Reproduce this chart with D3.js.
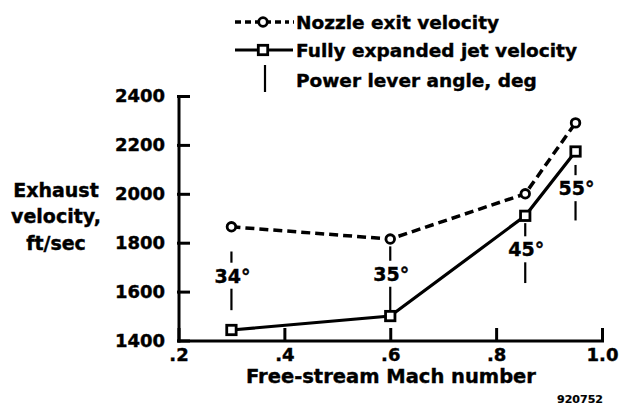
<!DOCTYPE html>
<html>
<head>
<meta charset="utf-8">
<script src="https://cdn.jsdelivr.net/npm/d3@7"></script>
<style>
  body { margin: 0; background: #fff; }
  svg { display: block; font-family: "DejaVu Sans", sans-serif; font-weight: bold; }
  text { stroke: #000; stroke-width: 0.4px; }
</style>
</head>
<body>
<svg width="620" height="410"></svg>
<script>
// Data
const machNumbers = [0.3, 0.6, 0.855, 0.95];
const nozzleExitVelocity = [1865, 1815, 2000, 2290];
const fullyExpandedVelocity = [1443, 1500, 1910, 2173];

// power lever angle markers (vertical lines with a label in the gap)
const leverAngleLabels = ["34°", "35°", "45°", "55°"];
const leverLineTop = [1764, 1785, 1880, 2118];
const leverLineBottom = [1524, 1520, 1635, 1891];
const leverLabelAt = [1665, 1673, 1773, 2023];

const yTicks = [1400, 1600, 1800, 2000, 2200, 2400];
const xTicks = [0.2, 0.4, 0.6, 0.8, 1.0];
const xTickLabels = [".2", ".4", ".6", ".8", "1.0"];

const svg = d3.select("svg");

// scales
const x = d3.scaleLinear().domain([0.2, 1.0]).range([178.5, 602]);
const y = d3.scaleLinear().domain([1400, 2400]).range([340.5, 96]);

// y axis, ticks pointing inward
const yAxis = svg.append("g")
    .attr("transform", `translate(${x(0.2)},0)`)
    .call(d3.axisLeft(y).tickValues(yTicks).tickSize(-10).tickSizeOuter(0).tickPadding(13.5)
        .tickFormat(d3.format("d")));

// x axis, ticks pointing inward
const xAxis = svg.append("g")
    .attr("transform", `translate(0,${y(1400)})`)
    .call(d3.axisBottom(x).tickValues(xTicks).tickSize(-11).tickSizeOuter(0).tickPadding(8)
        .tickFormat((d, i) => xTickLabels[i]));

[yAxis, xAxis].forEach(g => {
    g.selectAll(".domain, .tick line")
        .style("stroke", "#000")
        .style("stroke-width", "3px")
        .style("stroke-linecap", "square");
    g.selectAll(".tick text")
        .style("fill", "#000")
        .style("font-family", "DejaVu Sans")
        .style("font-weight", "bold")
        .style("font-size", "18px");
});

// axis titles
const yTitle = svg.append("text")
    .attr("text-anchor", "middle")
    .style("font-size", "19px");
[["Exhaust", 197], ["velocity,", 223], ["ft/sec", 250]].forEach(([t, by]) => {
    yTitle.append("tspan").attr("x", 56).attr("y", by).text(t);
});

svg.append("text")
    .attr("x", 391)
    .attr("y", 383)
    .attr("text-anchor", "middle")
    .style("font-size", "19.5px")
    .text("Free-stream Mach number");

svg.append("text")
    .attr("x", 603)
    .attr("y", 403)
    .attr("text-anchor", "end")
    .style("font-size", "11px")
    .style("stroke-width", "0.2px")
    .text("920752");

// power lever angle markers
const gap = 13;
machNumbers.forEach((m, i) => {
    const cx = x(m);
    const cy = y(leverLabelAt[i]);
    svg.append("line")
        .attr("x1", cx).attr("x2", cx)
        .attr("y1", y(leverLineTop[i])).attr("y2", cy - gap)
        .attr("stroke", "#000").attr("stroke-width", 2.2);
    svg.append("line")
        .attr("x1", cx).attr("x2", cx)
        .attr("y1", cy + gap).attr("y2", y(leverLineBottom[i]))
        .attr("stroke", "#000").attr("stroke-width", 2.2);
    svg.append("text")
        .attr("x", cx + 1)
        .attr("y", cy)
        .attr("dy", "0.36em")
        .attr("text-anchor", "middle")
        .style("font-size", "19px")
        .text(leverAngleLabels[i]);
});

// lines
const nozzleData = machNumbers.map((m, i) => [m, nozzleExitVelocity[i]]);
const jetData = machNumbers.map((m, i) => [m, fullyExpandedVelocity[i]]);
const line = d3.line().x(d => x(d[0])).y(d => y(d[1]));

svg.append("path")
    .datum(nozzleData)
    .attr("d", line)
    .attr("fill", "none")
    .attr("stroke", "#000")
    .attr("stroke-width", 3.5)
    .attr("stroke-dasharray", "9,5");

svg.append("path")
    .datum(jetData)
    .attr("d", line)
    .attr("fill", "none")
    .attr("stroke", "#000")
    .attr("stroke-width", 3.2);

// markers
svg.selectAll(".nozzle-pt")
    .data(nozzleData)
    .enter().append("circle")
    .attr("class", "nozzle-pt")
    .attr("cx", d => x(d[0]))
    .attr("cy", d => y(d[1]))
    .attr("r", 4.3)
    .attr("fill", "#fff")
    .attr("stroke", "#000")
    .attr("stroke-width", 2.8);

svg.selectAll(".jet-pt")
    .data(jetData)
    .enter().append("rect")
    .attr("class", "jet-pt")
    .attr("x", d => x(d[0]) - 4.7)
    .attr("y", d => y(d[1]) - 4.7)
    .attr("width", 9.4)
    .attr("height", 9.4)
    .attr("fill", "#fff")
    .attr("stroke", "#000")
    .attr("stroke-width", 2.8);

// legend
const legend = svg.append("g");
legend.append("line")
    .attr("x1", 235).attr("x2", 259).attr("y1", 22).attr("y2", 22)
    .attr("stroke", "#000").attr("stroke-width", 3.5).attr("stroke-dasharray", "6,4");
legend.append("line")
    .attr("x1", 267).attr("x2", 294).attr("y1", 22).attr("y2", 22)
    .attr("stroke", "#000").attr("stroke-width", 3.5).attr("stroke-dasharray", "4,4,6,4");
legend.append("circle")
    .attr("cx", 263).attr("cy", 22).attr("r", 4.3)
    .attr("fill", "#fff").attr("stroke", "#000").attr("stroke-width", 2.8);

legend.append("line")
    .attr("x1", 235).attr("x2", 293).attr("y1", 50).attr("y2", 50)
    .attr("stroke", "#000").attr("stroke-width", 3.2);
legend.append("rect")
    .attr("x", 258.3).attr("y", 45.3).attr("width", 9.4).attr("height", 9.4)
    .attr("fill", "#fff").attr("stroke", "#000").attr("stroke-width", 2.8);

legend.append("line")
    .attr("x1", 265).attr("x2", 265).attr("y1", 65).attr("y2", 92)
    .attr("stroke", "#000").attr("stroke-width", 2.2);

[["Nozzle exit velocity", 28.5], ["Fully expanded jet velocity", 57], ["Power lever angle, deg", 86.5]]
    .forEach(([t, by]) => {
        legend.append("text")
            .attr("x", 296)
            .attr("y", by)
            .style("font-size", "18.5px")
            .text(t);
    });
</script>
</body>
</html>
